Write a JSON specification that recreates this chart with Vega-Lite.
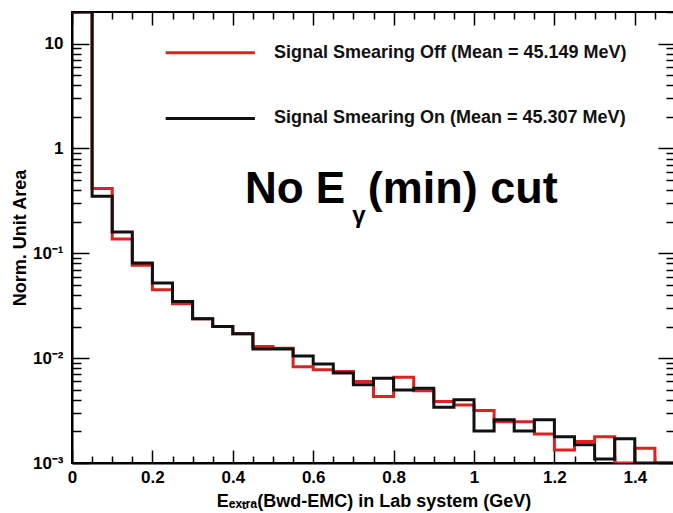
{
  "$schema": "https://vega.github.io/schema/vega-lite/v6.json",
  "autosize": "none",
  "width": 603,
  "height": 451,
  "padding": {"left": 72, "top": 12, "right": 0, "bottom": 50},
  "background": "white",
  "config": {
    "view": {"stroke": "black", "strokeWidth": 2},
    "font": "Liberation Sans",
    "axis": {
      "domainColor": "black",
      "domainWidth": 2,
      "tickColor": "black",
      "tickWidth": 1.5,
      "grid": false,
      "labelFont": "Liberation Sans",
      "labelFontWeight": "bold",
      "labelFontSize": 17,
      "labelColor": "black",
      "titleFont": "Liberation Sans",
      "titleFontWeight": "bold",
      "titleFontSize": 18,
      "titleColor": "black"
    }
  },
  "datasets": {
    "hist": [
      {"E": 0.00, "value": 20, "series": "Off"},
      {"E": 0.05, "value": 0.414, "series": "Off"},
      {"E": 0.10, "value": 0.137, "series": "Off"},
      {"E": 0.15, "value": 0.0767, "series": "Off"},
      {"E": 0.20, "value": 0.0449, "series": "Off"},
      {"E": 0.25, "value": 0.033, "series": "Off"},
      {"E": 0.30, "value": 0.0237, "series": "Off"},
      {"E": 0.35, "value": 0.020, "series": "Off"},
      {"E": 0.40, "value": 0.0171, "series": "Off"},
      {"E": 0.45, "value": 0.0129, "series": "Off"},
      {"E": 0.50, "value": 0.0124, "series": "Off"},
      {"E": 0.55, "value": 0.0083, "series": "Off"},
      {"E": 0.60, "value": 0.00773, "series": "Off"},
      {"E": 0.65, "value": 0.00745, "series": "Off"},
      {"E": 0.70, "value": 0.00598, "series": "Off"},
      {"E": 0.75, "value": 0.0043, "series": "Off"},
      {"E": 0.80, "value": 0.00658, "series": "Off"},
      {"E": 0.85, "value": 0.0049, "series": "Off"},
      {"E": 0.90, "value": 0.00385, "series": "Off"},
      {"E": 0.95, "value": 0.00358, "series": "Off"},
      {"E": 1.00, "value": 0.00316, "series": "Off"},
      {"E": 1.05, "value": 0.00248, "series": "Off"},
      {"E": 1.10, "value": 0.00248, "series": "Off"},
      {"E": 1.15, "value": 0.00189, "series": "Off"},
      {"E": 1.20, "value": 0.00133, "series": "Off"},
      {"E": 1.25, "value": 0.0016, "series": "Off"},
      {"E": 1.30, "value": 0.00178, "series": "Off"},
      {"E": 1.35, "value": 0.001, "series": "Off"},
      {"E": 1.40, "value": 0.00138, "series": "Off"},
      {"E": 1.45, "value": 0.001, "series": "Off"},
      {"E": 1.50, "value": 0.001, "series": "Off"},
      {"E": 0.00, "value": 20, "series": "On"},
      {"E": 0.05, "value": 0.349, "series": "On"},
      {"E": 0.10, "value": 0.160, "series": "On"},
      {"E": 0.15, "value": 0.0808, "series": "On"},
      {"E": 0.20, "value": 0.052, "series": "On"},
      {"E": 0.25, "value": 0.0347, "series": "On"},
      {"E": 0.30, "value": 0.0237, "series": "On"},
      {"E": 0.35, "value": 0.020, "series": "On"},
      {"E": 0.40, "value": 0.0171, "series": "On"},
      {"E": 0.45, "value": 0.0122, "series": "On"},
      {"E": 0.50, "value": 0.0122, "series": "On"},
      {"E": 0.55, "value": 0.0105, "series": "On"},
      {"E": 0.60, "value": 0.00877, "series": "On"},
      {"E": 0.65, "value": 0.0072, "series": "On"},
      {"E": 0.70, "value": 0.00556, "series": "On"},
      {"E": 0.75, "value": 0.00644, "series": "On"},
      {"E": 0.80, "value": 0.00498, "series": "On"},
      {"E": 0.85, "value": 0.00517, "series": "On"},
      {"E": 0.90, "value": 0.0034, "series": "On"},
      {"E": 0.95, "value": 0.0040, "series": "On"},
      {"E": 1.00, "value": 0.00202, "series": "On"},
      {"E": 1.05, "value": 0.00258, "series": "On"},
      {"E": 1.10, "value": 0.00202, "series": "On"},
      {"E": 1.15, "value": 0.00258, "series": "On"},
      {"E": 1.20, "value": 0.00178, "series": "On"},
      {"E": 1.25, "value": 0.00149, "series": "On"},
      {"E": 1.30, "value": 0.00109, "series": "On"},
      {"E": 1.35, "value": 0.0017, "series": "On"},
      {"E": 1.40, "value": 0.001, "series": "On"},
      {"E": 1.45, "value": 0.001, "series": "On"},
      {"E": 1.50, "value": 0.001, "series": "On"}
    ]
  },
  "resolve": {"axis": {"x": "independent", "y": "independent"}},
  "layer": [
    {
      "data": {"name": "hist"},
      "transform": [{"filter": "datum.series === 'Off'"}],
      "mark": {"type": "line", "interpolate": "step-after", "strokeWidth": 3, "clip": true},
      "encoding": {
        "x": {
          "field": "E", "type": "quantitative",
          "scale": {"domain": [0, 1.5], "nice": false, "zero": false},
          "axis": {
            "orient": "bottom",
            "title": "Eₑₓₜᵣₐ(Bwd-EMC) in Lab system (GeV)",
            "titlePadding": 1,
            "values": [0, 0.05, 0.1, 0.15, 0.2, 0.25, 0.3, 0.35, 0.4, 0.45, 0.5, 0.55, 0.6, 0.65, 0.7, 0.75, 0.8, 0.85, 0.9, 0.95, 1, 1.05, 1.1, 1.15, 1.2, 1.25, 1.3, 1.35, 1.4, 1.45, 1.5],
            "labelExpr": "abs(datum.value * 5 - round(datum.value * 5)) < 1e-6 && datum.value < 1.45 ? format(datum.value, '.1~f') : ''",
            "labelFlush": false,
            "labelOverlap": false,
            "labelPadding": 19,
            "tickSize": {"condition": {"test": "abs(datum.value * 5 - round(datum.value * 5)) < 1e-6", "value": -13}, "value": -7}
          }
        },
        "y": {
          "field": "value", "type": "quantitative",
          "scale": {"type": "log", "domain": [0.001, 20], "nice": false},
          "axis": {
            "orient": "left",
            "title": "Norm. Unit Area",
            "titlePadding": 3,
            "values": [0.001, 0.002, 0.003, 0.004, 0.005, 0.006, 0.007, 0.008, 0.009, 0.01, 0.02, 0.03, 0.04, 0.05, 0.06, 0.07, 0.08, 0.09, 0.1, 0.2, 0.3, 0.4, 0.5, 0.6, 0.7, 0.8, 0.9, 1, 2, 3, 4, 5, 6, 7, 8, 9, 10, 20],
            "labelExpr": "abs(log(datum.value) / LN10 - round(log(datum.value) / LN10)) < 1e-6 ? (round(log(datum.value) / LN10) == 1 ? '10' : round(log(datum.value) / LN10) == 0 ? '1' : round(log(datum.value) / LN10) == -1 ? '10⁻¹' : round(log(datum.value) / LN10) == -2 ? '10⁻²' : '10⁻³') : ''",
            "labelOverlap": false,
            "labelPadding": 26,
            "tickSize": {"condition": {"test": "abs(log(datum.value) / LN10 - round(log(datum.value) / LN10)) < 1e-6", "value": -17}, "value": -9}
          }
        },
        "color": {"field": "series", "type": "nominal", "scale": {"domain": ["Off", "On"], "range": ["#dd2222", "#111111"]}, "legend": null}
      }
    },
    {
      "data": {"name": "hist"},
      "transform": [{"filter": "datum.series === 'On'"}],
      "mark": {"type": "line", "interpolate": "step-after", "strokeWidth": 3, "clip": true},
      "encoding": {
        "x": {
          "field": "E", "type": "quantitative",
          "axis": {
            "orient": "top",
            "title": null,
            "labels": false,
            "domain": false,
            "values": [0, 0.05, 0.1, 0.15, 0.2, 0.25, 0.3, 0.35, 0.4, 0.45, 0.5, 0.55, 0.6, 0.65, 0.7, 0.75, 0.8, 0.85, 0.9, 0.95, 1, 1.05, 1.1, 1.15, 1.2, 1.25, 1.3, 1.35, 1.4, 1.45, 1.5],
            "tickSize": {"condition": {"test": "abs(datum.value * 5 - round(datum.value * 5)) < 1e-6", "value": -13}, "value": -7}
          }
        },
        "y": {
          "field": "value", "type": "quantitative",
          "axis": {
            "orient": "right",
            "title": null,
            "labels": false,
            "domain": false,
            "values": [0.001, 0.002, 0.003, 0.004, 0.005, 0.006, 0.007, 0.008, 0.009, 0.01, 0.02, 0.03, 0.04, 0.05, 0.06, 0.07, 0.08, 0.09, 0.1, 0.2, 0.3, 0.4, 0.5, 0.6, 0.7, 0.8, 0.9, 1, 2, 3, 4, 5, 6, 7, 8, 9, 10, 20],
            "tickSize": {"condition": {"test": "abs(log(datum.value) / LN10 - round(log(datum.value) / LN10)) < 1e-6", "value": -17}, "value": -9}
          }
        },
        "color": {"field": "series", "type": "nominal", "legend": null}
      }
    },
    {
      "data": {"values": [{}]},
      "mark": {"type": "rule", "strokeWidth": 3},
      "encoding": {
        "x": {"datum": 0.233, "type": "quantitative", "axis": null},
        "x2": {"datum": 0.455},
        "y": {"datum": 8.18, "type": "quantitative", "axis": null},
        "color": {"datum": "Off", "type": "nominal", "legend": null}
      }
    },
    {
      "data": {"values": [{}]},
      "mark": {"type": "rule", "strokeWidth": 3},
      "encoding": {
        "x": {"datum": 0.233, "type": "quantitative", "axis": null},
        "x2": {"datum": 0.455},
        "y": {"datum": 1.93, "type": "quantitative", "axis": null},
        "color": {"datum": "On", "type": "nominal", "legend": null}
      }
    },
    {
      "data": {"values": [{}]},
      "mark": {"type": "text", "align": "left", "baseline": "middle", "font": "Liberation Sans", "fontWeight": "bold", "fontSize": 18, "color": "#111111"},
      "encoding": {
        "x": {"datum": 0.5025, "type": "quantitative", "axis": null},
        "y": {"datum": 8.18, "type": "quantitative", "axis": null},
        "text": {"value": "Signal Smearing Off (Mean = 45.149 MeV)"}
      }
    },
    {
      "data": {"values": [{}]},
      "mark": {"type": "text", "align": "left", "baseline": "middle", "font": "Liberation Sans", "fontWeight": "bold", "fontSize": 18, "color": "#111111"},
      "encoding": {
        "x": {"datum": 0.5025, "type": "quantitative", "axis": null},
        "y": {"datum": 1.93, "type": "quantitative", "axis": null},
        "text": {"value": "Signal Smearing On (Mean = 45.307 MeV)"}
      }
    },
    {
      "data": {"values": [{}]},
      "mark": {"type": "text", "align": "left", "baseline": "alphabetic", "font": "Liberation Sans", "fontWeight": "bold", "fontSize": 44, "color": "black"},
      "encoding": {
        "x": {"datum": 0.4303, "type": "quantitative", "axis": null},
        "y": {"datum": 0.304, "type": "quantitative", "axis": null},
        "text": {"value": "No E"}
      }
    },
    {
      "data": {"values": [{}]},
      "mark": {"type": "text", "align": "center", "baseline": "alphabetic", "font": "Liberation Sans", "fontWeight": "bold", "fontSize": 24, "color": "black"},
      "encoding": {
        "x": {"datum": 0.714, "type": "quantitative", "axis": null},
        "y": {"datum": 0.195, "type": "quantitative", "axis": null},
        "text": {"value": "γ"}
      }
    },
    {
      "data": {"values": [{}]},
      "mark": {"type": "text", "align": "left", "baseline": "alphabetic", "font": "Liberation Sans", "fontWeight": "bold", "fontSize": 45, "color": "black"},
      "encoding": {
        "x": {"datum": 0.736, "type": "quantitative", "axis": null},
        "y": {"datum": 0.304, "type": "quantitative", "axis": null},
        "text": {"value": "(min) cut"}
      }
    }
  ]
}
